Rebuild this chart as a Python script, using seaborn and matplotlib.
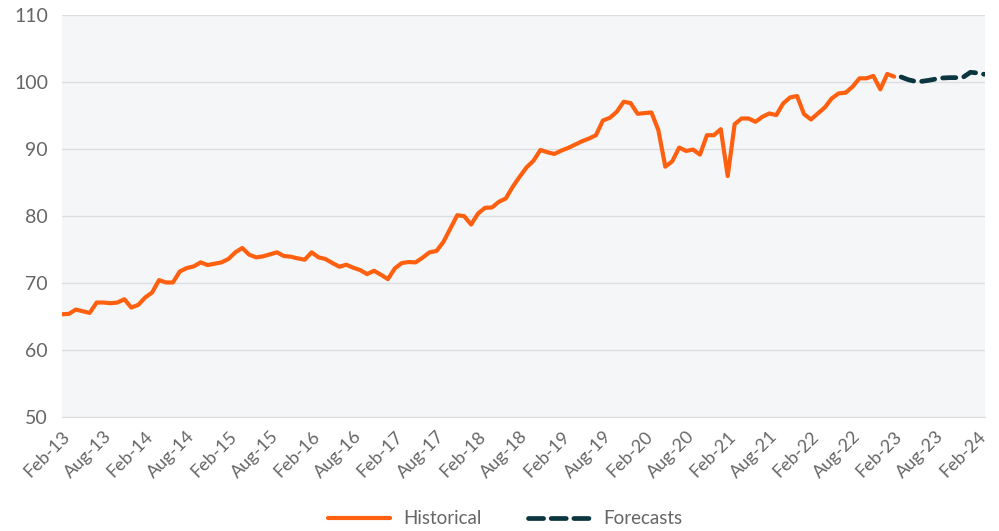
import pandas as pd
import matplotlib
matplotlib.use("Agg")
import matplotlib.pyplot as plt
import seaborn as sns

# --- data (monthly, index 0 = Feb-13) ---
historical = [
    65.35, 65.4, 66.05, 65.8, 65.55, 67.1, 67.1, 67.0, 67.1, 67.6,
    66.35, 66.75, 67.85, 68.6, 70.45, 70.1, 70.1, 71.75, 72.25, 72.5,
    73.1, 72.7, 72.9, 73.1, 73.6, 74.6, 75.25, 74.25, 73.85, 74.0,
    74.3, 74.6, 74.05, 73.95, 73.7, 73.5, 74.6, 73.85, 73.6, 73.0,
    72.45, 72.75, 72.3, 71.95, 71.35, 71.85, 71.25, 70.6, 72.2, 73.0,
    73.15, 73.1, 73.8, 74.6, 74.8, 76.15, 78.15, 80.15, 80.0, 78.75,
    80.4, 81.25, 81.3, 82.15, 82.65, 84.4, 85.9, 87.3, 88.3, 89.9,
    89.55, 89.3, 89.8, 90.2, 90.7, 91.2, 91.6, 92.1, 94.3, 94.7,
    95.6, 97.1, 96.9, 95.3, 95.4, 95.5, 92.85, 87.4, 88.2, 90.25,
    89.75, 89.95, 89.2, 92.1, 92.1, 93.0, 86.0, 93.75, 94.6, 94.6,
    94.1, 94.85, 95.35, 95.1, 96.85, 97.75, 97.95, 95.25, 94.45, 95.35,
    96.25, 97.6, 98.35, 98.45, 99.35, 100.6, 100.6, 100.95, 98.95, 101.25,
    100.85,
]
forecasts = [100.8, 100.4, 100.15, 100.15, 100.3, 100.5, 100.65, 100.7,
             100.7, 100.8, 101.5, 101.4, 101.2]
forecast_start = 121

tick_labels = ['Feb-13', 'Aug-13', 'Feb-14', 'Aug-14', 'Feb-15', 'Aug-15',
               'Feb-16', 'Aug-16', 'Feb-17', 'Aug-17', 'Feb-18', 'Aug-18',
               'Feb-19', 'Aug-19', 'Feb-20', 'Aug-20', 'Feb-21', 'Aug-21',
               'Feb-22', 'Aug-22', 'Feb-23', 'Aug-23', 'Feb-24']
y_ticks = [50, 60, 70, 80, 90, 100, 110]

hist_df = pd.DataFrame({'month': range(len(historical)), 'value': historical})
fc_df = pd.DataFrame({'month': range(forecast_start, forecast_start + len(forecasts)),
                      'value': forecasts})

# --- style ---
sns.set_style("white")
plt.rcParams['font.family'] = ['Lato', 'DejaVu Sans']

fig = plt.figure(figsize=(9.99, 5.31), dpi=100)
ax = fig.add_axes([0.062, 0.2147, 0.924, 0.7563])
ax.set_facecolor('#f5f6f8')

sns.lineplot(data=hist_df, x='month', y='value', ax=ax, color='#ff6010',
             linewidth=3.0, label='Historical')
sns.lineplot(data=fc_df, x='month', y='value', ax=ax, color='#0b3640',
             linewidth=3.4, label='Forecasts', dashes=False)
# dashed forecast line with rounded dash ends
ax.lines[1].set_linestyle((0, (2.8, 1.7)))
ax.lines[1].set_dash_capstyle('round')

ax.set_xlim(0, 133.1)
ax.set_ylim(50, 110)
ax.set_yticks(y_ticks)
ax.set_xticks(range(0, 6 * len(tick_labels), 6))
ax.set_xticklabels(tick_labels, rotation=45, ha='right', rotation_mode='anchor')

ax.grid(axis='y', color='#dcdde0', linewidth=1)
ax.set_axisbelow(True)
for s in ['top', 'right', 'left']:
    ax.spines[s].set_visible(False)
ax.spines['bottom'].set_color('#dcdde0')
ax.tick_params(axis='x', length=6, color='#d0d0d0', labelsize=13, labelcolor='#666666', pad=2)
ax.tick_params(axis='y', length=0, labelsize=14, labelcolor='#666666', pad=10)
ax.set_xlabel('')
ax.set_ylabel('')

handles, labels = ax.get_legend_handles_labels()
leg = ax.legend(handles, labels, loc='center', bbox_to_anchor=(0.48, -0.254),
                ncol=2, frameon=False, fontsize=13.5, handlelength=3.3,
                columnspacing=2.5, handletextpad=0.7)
for t in leg.get_texts():
    t.set_color('#666666')
leg.get_lines()[1].set_linestyle((0, (3.2, 1.6)))
leg.get_lines()[1].set_dash_capstyle('round')

fig.savefig('out.png', dpi=100)
